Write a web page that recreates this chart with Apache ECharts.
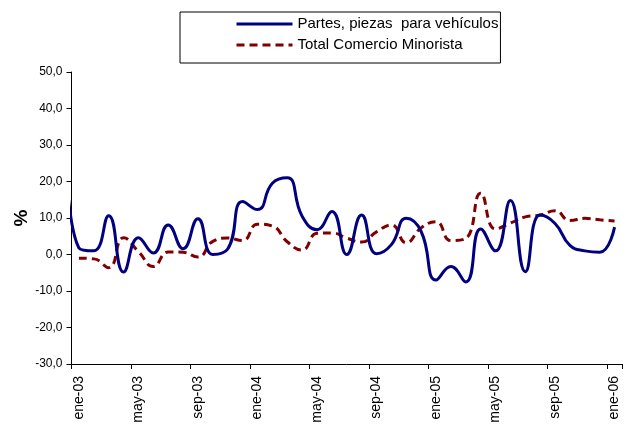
<!DOCTYPE html>
<html>
<head>
<meta charset="utf-8">
<script src="https://cdn.jsdelivr.net/npm/echarts@6/dist/echarts.min.js"></script>
<style>
  html, body { margin: 0; padding: 0; background: #fff; }
  #chart { width: 628px; height: 429px; }
</style>
</head>
<body>
<div id="chart"></div>
<script>
// meses ene-03 .. ene-06
var meses = ['ene-03','feb-03','mar-03','abr-03','may-03','jun-03','jul-03','ago-03','sep-03','oct-03','nov-03','dic-03',
             'ene-04','feb-04','mar-04','abr-04','may-04','jun-04','jul-04','ago-04','sep-04','oct-04','nov-04','dic-04',
             'ene-05','feb-05','mar-05','abr-05','may-05','jun-05','jul-05','ago-05','sep-05','oct-05','nov-05','dic-05',
             'ene-06'];

// Partes, piezas para vehículos (primer valor = dic-02, queda fuera del eje)
var partes = [36.0,
  1.8, 1.0, 10.6, -4.8, 4.6, 0.4, 8.1, 1.6, 9.8, 0.0, 1.5, 14.5,
  12.3, 19.5, 21.0, 10.5, 6.8, 11.8, 0.0, 10.8, 0.2, 2.7, 9.9, 6.3,
  -7.0, -3.3, -7.5, 7.0, 1.0, 14.8, -4.7, 10.8, 8.5, 2.5, 1.0, 0.6,
  7.5];

// Total Comercio Minorista
var minorista = [
  -1.0, -1.2, -3.6, 4.6, 0.8, -3.3, 0.7, 0.6, -0.7, 3.6, 4.5, 3.8,
  8.3, 7.8, 3.5, 1.2, 5.8, 5.9, 4.5, 3.4, 6.2, 8.1, 3.2, 7.3,
  9.0, 3.8, 4.4, 16.8, 7.0, 8.6, 10.3, 10.8, 12.0, 9.3, 9.9, 9.5,
  9.2];

var yTicks = { min: -30, max: 50, step: 10 };

var fuente = 'Liberation Sans, Arial, sans-serif';
var chart = echarts.init(document.getElementById('chart'));

var option = {
    backgroundColor: '#fff',
    animation: false,
    textStyle: { fontFamily: fuente },
    grid: { left: 71.5, right: 6, top: 72, bottom: 65, containLabel: false, outerBoundsMode: 'none' },
    legend: {
        orient: 'vertical',
        left: 180,
        top: 12,
        width: 318,
        padding: [4, 2, 10, 55],
        itemGap: 5,
        itemWidth: 56,
        itemHeight: 14,
        borderColor: '#000',
        borderWidth: 1,
        itemStyle: { opacity: 0 },
        lineStyle: { width: 3 },
        textStyle: { fontSize: 15, color: '#000', fontFamily: fuente, lineHeight: 16 },
        data: ['Partes, piezas  para vehículos', 'Total Comercio Minorista']
    },
    xAxis: [
        {
            // eje numérico para las series
            type: 'value',
            min: -0.5,
            max: meses.length - 0.5,
            show: false
        },
        {
            // línea del eje en 0 con marcas
            type: 'category',
            data: meses,
            boundaryGap: true,
            position: 'bottom',
            axisLine: { onZero: true, lineStyle: { color: '#000', width: 1 } },
            axisTick: { show: true, interval: 3, length: 5, lineStyle: { color: '#000' } },
            axisLabel: { show: false },
            splitLine: { show: false }
        },
        {
            // etiquetas abajo
            type: 'category',
            data: meses,
            boundaryGap: true,
            position: 'bottom',
            axisLine: { show: false, onZero: false },
            axisTick: { show: false },
            axisLabel: { interval: 3, rotate: 90, fontSize: 14, color: '#000', margin: 12 },
            splitLine: { show: false }
        }
    ],
    yAxis: {
        type: 'value',
        min: yTicks.min,
        max: yTicks.max,
        interval: yTicks.step,
        position: 'left',
        name: '%',
        nameLocation: 'middle',
        nameGap: 40,
        nameMoveOverlap: false,
        nameTextStyle: { fontSize: 19, fontWeight: 'bold', color: '#000' },
        axisLine: { show: true, onZero: false, lineStyle: { color: '#000', width: 1 } },
        axisTick: { show: true, length: 5, lineStyle: { color: '#000' } },
        splitLine: { show: false },
        axisLabel: {
            fontSize: 12,
            color: '#000',
            margin: 9,
            formatter: function (v) { return v.toFixed(1).replace('.', ','); }
        }
    },
    series: [
        {
            name: 'Partes, piezas  para vehículos',
            type: 'line',
            xAxisIndex: 0,
            smooth: true,
            symbol: 'none',
            clip: true,
            lineStyle: { color: '#000080', width: 3 },
            itemStyle: { color: '#000080' },
            data: partes.map(function (v, i) { return [i - 1, v]; }),
            z: 3
        },
        {
            name: 'Total Comercio Minorista',
            type: 'line',
            xAxisIndex: 0,
            smooth: true,
            symbol: 'none',
            clip: true,
            lineStyle: { color: '#800000', width: 3, type: [8, 5] },
            itemStyle: { color: '#800000' },
            data: minorista.map(function (v, i) { return [i, v]; }),
            z: 2
        }
    ]
};

chart.setOption(option);
</script>
</body>
</html>
